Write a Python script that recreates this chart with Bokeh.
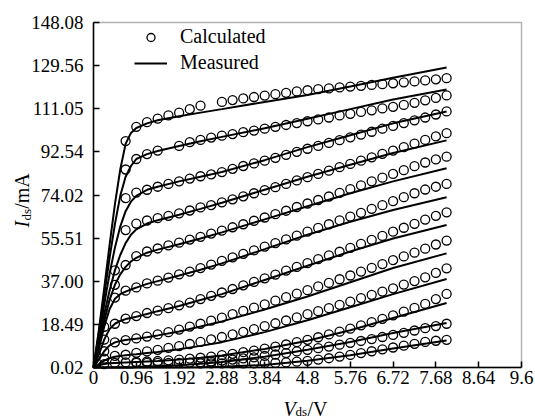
from bokeh.plotting import figure
from bokeh.models import (FixedTicker, NumeralTickFormatter, Label, Legend,
                          LegendItem, Range1d, BoxAnnotation)
from bokeh.embed import file_html
from bokeh.resources import INLINE
import math

nan = float("nan")

# ---- data ----
x_ticks = [0, 0.96, 1.92, 2.88, 3.84, 4.8, 5.76, 6.72, 7.68, 8.64, 9.6]
y_ticks = [0.02, 18.49, 37.00, 55.51, 74.02, 92.54, 111.05, 129.56, 148.08]

v_measured = [0, 0.12, 0.24, 0.36, 0.48, 0.6, 0.72, 0.84, 0.96, 1.2, 1.44,
              1.92, 2.4, 2.88, 3.84, 4.8, 5.76, 6.72, 7.92]
m1 = [0, 16, 34, 52.5, 70, 85, 96, 100.7, 102.8, 104.8, 106.1, 107.8, 109.4, 110.9, 114, 117, 120.6, 124.4, 128.8]
m2 = [0, 15, 31, 47, 61.5, 73.7, 81.9, 86.5, 89.5, 91.6, 92.9, 95.1, 97.1, 99, 102.7, 106.8, 110.9, 115, 119.3]
m3 = [0, 12.7, 27, 40.2, 51.4, 60.5, 67.1, 71.2, 73.7, 76.3, 77.6, 79.9, 81.9, 83.9, 89, 94.6, 99.7, 104.8, 109.9]
m4 = [0, 10.6, 22.9, 33, 41.7, 48.3, 53.4, 57, 59.3, 61.8, 63.2, 65.6, 68.1, 70.7, 76.3, 81.9, 87, 92.1, 97.5]
m5 = [0, 9.5, 20, 29, 35.5, 40, 43.2, 45.5, 47.1, 49.3, 50.6, 52.9, 55.4, 58, 63.6, 69.2, 74.8, 79.9, 85.5]
m6 = [0, 8, 17.5, 25, 29.5, 31.5, 32.6, 33.5, 34.3, 35.9, 37.1, 39.5, 42, 44.7, 50.8, 57, 62.6, 67.6, 73.1]
m7 = [0, 5.5, 12, 16.5, 18.8, 20, 20.8, 21.3, 21.8, 23, 24.2, 26.4, 29, 31.5, 37.6, 43.7, 49.8, 55.4, 61.2]
m8 = [0, 3.5, 7, 9.5, 10.8, 11.4, 11.8, 12.1, 12.4, 13, 13.8, 15.5, 17.6, 19.8, 24.9, 30.5, 36.6, 42.7, 49.0]
m9 = [0, 1.5, 3, 4, 4.6, 5, 5.3, 5.5, 5.7, 6.2, 6.7, 7.9, 9.3, 10.9, 15.2, 20.3, 25.9, 31.5, 38.0]
m10 = [0, 1.0, 1.5, 1.8, 2.0, 2.1, 2.2, 2.3, 2.4, 2.6, 2.8, 3.4, 4.2, 5.2, 8.0, 11.5, 16.0, 21.3, 27.7]
m11 = [0, 0, 0, 0, 0, 0, 0, 0, 0.2, 0.4, 0.6, 1.0, 1.6, 2.4, 4.6, 7.6, 11.0, 14.8, 19.1]
m12 = [0, 0, 0, 0, 0, 0, 0, 0, 0, 0, 0, 0, 0.1, 0.3, 1.1, 2.9, 5.3, 8.2, 11.6]

v_calc = [0.24, 0.48, 0.72, 0.96, 1.2, 1.44, 1.68, 1.92, 2.16, 2.4, 2.64, 2.88,
          3.12, 3.36, 3.6, 3.84, 4.08, 4.32, 4.56, 4.8, 5.04, 5.28, 5.52, 5.76,
          6.0, 6.24, 6.48, 6.72, 6.96, 7.2, 7.44, 7.68, 7.92]
c1 = [nan, nan, 97.2, 103.3, 105.3, 106.8, 108.2, 109.4, 110.9, 112.4, nan, 114.0, 114.8, 115.5, 116.1, 116.7, 117.3,
      117.9, 118.5, 119.0, 119.5, 119.8, 120.2, 120.6, 120.9, 121.3, 121.6, 122.0, 122.4, 122.8, 123.2, 123.7, 124.2]
c2 = [nan, nan, 85.0, 89.5, 91.6, 93.1, nan, 95.1, 96.7, 97.7, 98.7, 99.5, 100.2, 101.0, 101.7, 102.5, 103.3, 104.1,
      104.9, 105.7, 106.5, 107.3, 108.2, 108.9, 109.7, 110.4, 111.2, 111.9, 112.7, 113.6, 114.7, 115.7, 116.8]
c3 = [nan, nan, 72.7, 75.1, 76.3, 77.6, 78.8, 79.9, 81.1, 82.1, 82.9, 83.9, 85.3, 86.5, 87.6, 88.8, 90.0, 91.3, 92.6,
      93.9, 95.1, 96.4, 97.6, 98.8, 100.0, 101.2, 102.5, 103.7, 104.9, 106.1, 107.3, 108.6, 109.9]
c4 = [nan, 41.7, 59.0, 61.8, 63.1, 64.1, 65.1, 66.2, 67.4, 68.7, 69.7, 70.9, 72.2, 73.5, 74.8, 76.1, 77.4, 78.8, 80.3,
      81.7, 83.1, 84.5, 86.0, 87.4, 88.8, 90.2, 91.7, 93.1, 94.6, 96.1, 97.7, 99.2, 100.6]
c5 = [nan, 35.5, 44.0, 47.8, 49.8, 51.1, 52.4, 53.6, 54.9, 56.1, 57.5, 58.8, 60.2, 61.5, 63.0, 64.4, 65.8, 67.3, 68.9,
      70.4, 71.9, 73.4, 75.0, 76.6, 78.2, 79.9, 81.5, 83.1, 84.7, 86.4, 88.0, 89.3, 90.5]
c6 = [17.5, 30.0, 33.0, 34.4, 36.1, 37.3, 38.6, 40.0, 41.2, 42.7, 44.2, 45.8, 47.3, 48.8, 50.3, 51.9, 53.4, 55.0, 56.6,
      58.3, 59.9, 61.5, 63.2, 64.8, 66.4, 68.1, 69.7, 71.4, 73.1, 74.8, 76.4, 77.6, 78.8]
c7 = [12.0, 18.8, 21.0, 22.1, 23.4, 24.4, 25.5, 26.7, 27.9, 29.4, 30.8, 32.2, 33.7, 35.3, 36.8, 38.3, 39.9, 41.6, 43.2,
      44.8, 46.5, 48.1, 49.7, 51.4, 53.1, 54.8, 56.5, 58.3, 60.0, 61.7, 63.5, 65.1, 66.6]
c8 = [7.0, 10.8, 11.8, 12.5, 13.3, 14.2, 15.2, 16.3, 17.6, 18.8, 20.1, 21.4, 22.9, 24.3, 25.7, 27.1, 28.7, 30.2, 31.7,
      33.2, 34.8, 36.3, 37.9, 39.5, 41.2, 42.8, 44.4, 46.1, 47.7, 49.3, 51.0, 52.8, 54.5]
c9 = [3.8, 5.0, 5.5, 6.3, 6.9, 7.6, 8.4, 9.2, 10.1, 11.0, 12.1, 13.1, 14.2, 15.3, 16.5, 17.8, 19.0, 20.2, 21.5,
      22.9, 24.2, 25.5, 26.9, 28.3, 29.8, 31.2, 32.6, 34.0, 35.6, 37.1, 38.7, 40.6, 42.6]
c10 = [1.5, 2.0, 2.2, 2.4, 2.6, 2.8, 3.1, 3.4, 3.8, 4.2, 4.7, 5.3, 5.9, 6.6, 7.3, 8.1, 9.0, 9.9, 10.9,
       11.9, 13.0, 14.2, 15.4, 16.7, 18.1, 19.5, 20.9, 22.4, 24.0, 25.6, 27.3, 29.4, 31.6]
c11 = [nan, nan, nan, 2.0, 2.0, 2.0, 2.0, 2.0, 2.1, 2.3, 2.6, 3.0, 3.4, 3.9, 4.4, 5.0, 5.6, 6.2, 6.9,
       7.6, 8.3, 9.0, 9.8, 10.6, 11.4, 12.2, 13.1, 14.0, 14.9, 15.9, 16.9, 17.8, 18.8]
c12 = [nan, nan, nan, nan, nan, nan, nan, nan, nan, 1.8, 1.8, 1.8, 1.8, 1.8, 1.8, 1.9, 2.0, 2.2, 2.5,
       2.9, 3.4, 4.0, 4.7, 5.4, 6.2, 7.0, 7.8, 8.6, 9.4, 10.2, 11.0, 11.5, 11.9]

measured = [m1, m2, m3, m4, m5, m6, m7, m8, m9, m10, m11, m12]
calculated = [c1, c2, c3, c4, c5, c6, c7, c8, c9, c10, c11, c12]

FONT = "Liberation Serif"

# ---- layout: the frame covers the whole canvas so that axis titles and
#      tick labels are not clipped; the axes are pinned at the data origin
#      and the box is drawn around the data area.
W, H = 535, 419
AX_LEFT, AX_RIGHT, AX_TOP, AX_BOTTOM = 93, 521, 22, 367
X0, X1 = x_ticks[0], x_ticks[-1]
Y0, Y1 = y_ticks[0], y_ticks[-1]
px_x = (AX_RIGHT - AX_LEFT) / (X1 - X0)
px_y = (AX_BOTTOM - AX_TOP) / (Y1 - Y0)
x_range = Range1d(X0 - AX_LEFT / px_x, X1 + (W - AX_RIGHT) / px_x)
y_range = Range1d(Y0 - (H - AX_BOTTOM) / px_y, Y1 + AX_TOP / px_y)

p = figure(width=W, height=H, output_backend="svg", toolbar_location=None,
           x_range=x_range, y_range=y_range,
           min_border_left=0, min_border_bottom=0,
           min_border_top=0, min_border_right=0)
p.background_fill_color = "white"
p.border_fill_color = "white"
p.grid.visible = False
p.outline_line_color = None

for ax in (p.xaxis[0], p.yaxis[0]):
    ax.major_tick_in = 6
    ax.major_tick_out = 0
    ax.minor_tick_line_color = None
    ax.axis_line_color = "black"
    ax.axis_line_width = 1.5
    ax.major_tick_line_color = "black"
    ax.major_tick_line_width = 1.5
    ax.major_label_text_font = FONT
    ax.major_label_text_font_size = "19px"
    ax.major_label_text_color = "black"

p.xaxis.fixed_location = Y0
p.xaxis.bounds = (X0, X1)
p.xaxis.ticker = FixedTicker(ticks=x_ticks)
p.xaxis.formatter = NumeralTickFormatter(format="0.[00]")
p.xaxis.major_label_standoff = 3
p.yaxis.fixed_location = X0
p.yaxis.bounds = (Y0, Y1)
p.yaxis.ticker = FixedTicker(ticks=y_ticks)
p.yaxis.formatter = NumeralTickFormatter(format="0.00")
p.yaxis.major_label_standoff = 10

p.add_layout(BoxAnnotation(left=X0, right=X1, bottom=Y0, top=Y1,
                           fill_color=None, fill_alpha=0,
                           line_color="black", line_width=1.5))

lines = []
dots = []
for m, c in zip(measured, calculated):
    lines.append(p.line(v_measured, m, line_color="black", line_width=2))
    dots.append(p.scatter(v_calc, c, marker="circle", size=9, fill_color=None,
                          line_color="black", line_width=1.3))

legend = Legend(items=[LegendItem(label="Calculated", renderers=[dots[0]]),
                       LegendItem(label="Measured", renderers=[lines[0]])],
                location=(134, H - 74), padding=0, margin=0, spacing=3,
                glyph_width=33, glyph_height=20, label_height=20,
                label_standoff=13, label_text_font=FONT,
                label_text_font_size="20px", label_text_color="black",
                border_line_color=None, background_fill_alpha=0)
p.add_layout(legend)

# axis titles built from text pieces (italic symbol + subscript)
def lab(x, y, text, size, style="normal", angle=0.0):
    p.add_layout(Label(x=x, y=y, text=text, text_font=FONT,
                       text_font_size=size, text_font_style=style,
                       text_color="black", text_align="left",
                       text_baseline="alphabetic", angle=angle))

lab(4.262, -17.6, "V", "20px", "italic")
lab(4.531, -18.9, "ds", "13px")
lab(4.801, -17.6, "/V", "20px")

a = math.pi / 2
lab(-1.593, 60.1, "I", "20px", "italic", a)
lab(-1.503, 63.1, "ds", "13px", "normal", a)
lab(-1.593, 68.1, "/mA", "20px", "normal", a)

open("out.html", "w").write(file_html(p, INLINE))
